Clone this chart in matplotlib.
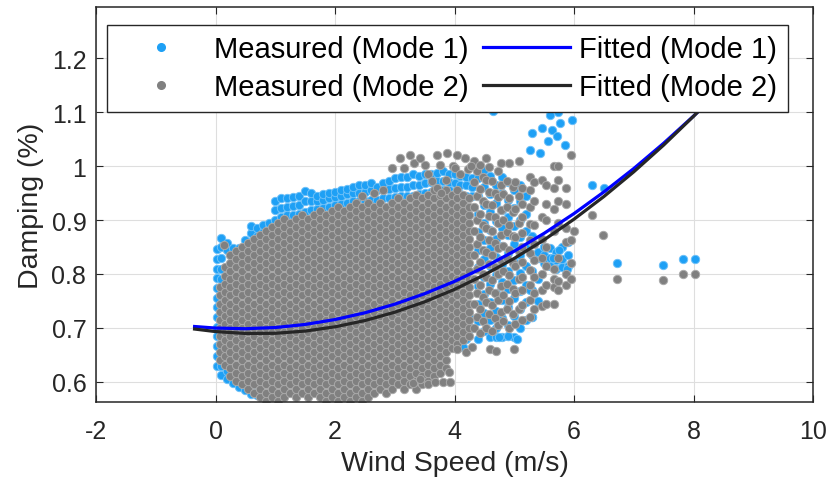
import numpy as np
import matplotlib
matplotlib.use("Agg")
import matplotlib.pyplot as plt
from matplotlib.lines import Line2D
from matplotlib.ticker import FormatStrFormatter

plt.rcParams['font.family'] = ['Liberation Sans', 'DejaVu Sans']
plt.rcParams['axes.unicode_minus'] = False

# ---- measured damping, mode 2 (grey), read column by column, values in 1/1000 %
m2_col_x = [0.08, 0.16, 0.25, 0.35, 0.45, 0.55, 0.65, 0.75, 0.85, 0.95,
            1.05, 1.15, 1.25, 1.35, 1.45, 1.55, 1.65, 1.75, 1.85, 1.95,
            2.05, 2.15, 2.25, 2.35, 2.45, 2.55, 2.65, 2.75, 2.85, 2.95,
            3.05, 3.15, 3.25, 3.35, 3.45, 3.55, 3.65, 3.75, 3.85, 3.95,
            4.05, 4.15, 4.25]
m2_col_y = [
    "640 655 670 685 700 715 730 745 760 775",
    "632 647 662 677 692 707 722 737 752 767 782 797 812",
    "610 625 640 655 670 685 700 715 730 745 760 775 790 805 820 835",
    "602 617 632 647 662 677 692 707 722 737 752 767 782 797 812 827 842",
    "595 610 625 640 655 670 685 700 715 730 745 760 775 790 805 820 835 850",
    "587 602 617 632 647 662 677 692 707 722 737 752 767 782 797 812 827 842 857",
    "580 595 610 625 640 655 670 685 700 715 730 745 760 775 790 805 820 835 850 865",
    "572 587 602 617 632 647 662 677 692 707 722 737 752 767 782 797 812 827 842 857 872",
    "565 580 595 610 625 640 655 670 685 700 715 730 745 760 775 790 805 820 835 850 865 880",
    "572 587 602 617 632 647 662 677 692 707 722 737 752 767 782 797 812 827 842 857 872 887",
    "565 580 595 610 625 640 655 670 685 700 715 730 745 760 775 790 805 820 835 850 865 880 895",
    "572 587 602 617 632 647 662 677 692 707 722 737 752 767 782 797 812 827 842 857 872 887 902",
    "580 595 610 625 640 655 670 685 700 715 730 745 760 775 790 805 820 835 850 865 880 895",
    "572 587 602 617 632 647 662 677 692 707 722 737 752 767 782 797 812 827 842 857 872 887 902",
    "580 595 610 625 640 655 670 685 700 715 730 745 760 775 790 805 820 835 850 865 880 895 910",
    "572 587 602 617 632 647 662 677 692 707 722 737 752 767 782 797 812 827 842 857 872 887 902",
    "580 595 610 625 640 655 670 685 700 715 730 745 760 775 790 805 820 835 850 865 880 895 910",
    "572 587 602 617 632 647 662 677 692 707 722 737 752 767 782 797 812 827 842 857 872 887 902 917",
    "565 580 595 610 625 640 655 670 685 700 715 730 745 760 775 790 805 820 835 850 865 880 895 910",
    "572 587 602 617 632 647 662 677 692 707 722 737 752 767 782 797 812 827 842 857 872 887 902 917",
    "565 580 595 610 625 640 655 670 685 700 715 730 745 760 775 790 805 820 835 850 865 880 895 910 925",
    "572 587 602 617 632 647 662 677 692 707 722 737 752 767 782 797 812 827 842 857 872 887 902 917",
    "565 580 595 610 625 640 655 670 685 700 715 730 745 760 775 790 805 820 835 850 865 880 895 910 925",
    "572 587 602 617 632 647 662 677 692 707 722 737 752 767 782 797 812 827 842 857 872 887 902 917 932",
    "565 580 595 610 625 640 655 670 685 700 715 730 745 760 775 790 805 820 835 850 865 880 895 910 925",
    "572 587 602 617 632 647 662 677 692 707 722 737 752 767 782 797 812 827 842 857 872 887 902 917 932",
    "580 595 610 625 640 655 670 685 700 715 730 745 760 775 790 805 820 835 850 865 880 895 910 925",
    "587 602 617 632 647 662 677 692 707 722 737 752 767 782 797 812 827 842 857 872 887 902 917 932",
    "580 595 610 625 640 655 670 685 700 715 730 745 760 775 790 805 820 835 850 865 880 895 910 925",
    "587 602 617 632 647 662 677 692 707 722 737 752 767 782 797 812 827 842 857 872 887 902 917 932",
    "595 610 625 640 655 670 685 700 715 730 745 760 775 790 805 820 835 850 865 880 895 910 925 940",
    "587 602 617 632 647 662 677 692 707 722 737 752 767 782 797 812 827 842 857 872 887 902 917 932",
    "595 610 625 640 655 670 685 700 715 730 745 760 775 790 805 820 835 850 865 880 895 910 925 940",
    "587 602 617 632 647 662 677 692 707 722 737 752 767 782 797 812 827 842 857 872 887 902 917 932 947",
    "595 610 625 640 655 670 685 700 715 730 745 760 775 790 805 820 835 850 865 880 895 910 925 940",
    "602 617 632 647 662 677 692 707 722 737 752 767 782 797 812 827 842 857 872 887 902 917 932 947",
    "610 625 640 655 670 685 700 715 730 745 760 775 790 805 820 835 850 865 880 895 910 925 940 955",
    "617 632 647 662 677 692 707 722 737 752 767 782 797 812 827 842 857 872 887 902 917 932 947",
    "625 640 655 670 685 700 715 730 745 760 775 790 805 820 835 850 865 880 895 910 925 940 955",
    "662 677 692 707 722 737 752 767 782 797 812 827 842 857 872 887 902 917 932 947",
    "670 685 700 715 730 745 760 775 790 805 820 835 850 865 880 895 910 925 940 955",
    "677 692 707 722 737 752 767 782 797 812 827 842 857 872 887 902 917 932 947",
    "685 700 715 730 745 760 775 790 805 820 835 850 865 880 895 910 925 940",
]

# sparser part of the mode 2 cloud at higher wind speeds
m2_mid_x = [4.32, 4.38, 4.42, 4.48, 4.52, 4.58, 4.62, 4.68, 4.72, 4.78,
            4.82, 4.88, 4.92, 4.98, 5.02, 5.08, 5.13, 5.27, 5.33, 5.47,
            5.53, 5.67, 5.73, 5.87, 5.95]
m2_mid_y = [
    "700 745 790 835 880 925 970 1010",
    "720 765 810 855 900 945 990",
    "690 735 780 822 868 912 958 1002",
    "712 757 800 845 890 935 980",
    "700 748 795 840 885 930 975 1015",
    "725 770 818 862 908 952 998",
    "695 742 788 835 880 928 972",
    "718 765 812 858 905 950",
    "705 752 800 848 895 942 990",
    "730 777 825 872 918 965 1005",
    "712 760 805 852 900 948",
    "735 782 830 878 925 972",
    "700 750 798 845 890 940 1005",
    "725 772 820 870 915 962",
    "708 765 815 868 920 970",
    "735 790 842 895 945 1010",
    "715 742 770 795 822 850 875 905 930 960",
    "720 752 780 808 838 862 892 925 955 980",
    "735 765 795 825 855 890 935 970",
    "740 770 800 830 865 905 975",
    "745 780 815 850 900 930 965",
    "745 775 790 810 880 920 960 1000",
    "770 786 830 895 935 975 1000",
    "780 800 860 885 930 960",
    "790 820 862 1020",
]

# isolated mode 2 points
m2_extra_x = [0.15, 2.45, 2.65, 2.80, 2.96, 3.08, 3.16, 3.25, 3.33, 3.42, 3.50,
              3.55, 3.62, 3.70, 3.70, 3.75, 3.78, 3.85, 3.87, 3.98, 4.00, 4.04,
              4.10, 4.17, 4.22, 4.28, 3.30, 3.42, 3.55, 3.68, 3.80, 3.90, 3.92,
              4.05, 4.20, 4.30, 4.60, 4.70, 5.00, 6.00, 6.30, 6.48, 6.72, 7.49,
              7.82, 8.02]
m2_extra_y = [0.853, 0.945, 0.950, 0.955, 0.997, 1.015, 0.997, 1.020, 1.006, 1.015, 1.002,
              0.985, 0.972, 0.960, 1.020, 1.002, 0.950, 0.975, 1.025, 1.000, 0.997, 1.020,
              0.985, 1.015, 0.995, 1.000, 0.597, 0.605, 0.595, 0.600, 0.600, 0.618, 0.600,
              0.660, 0.655, 0.665, 0.660, 0.657, 0.660, 0.880, 0.910, 0.872, 0.790, 0.788,
              0.799, 0.799]

# ---- measured damping, mode 1 (blue); mostly hidden under mode 2, only the edges show
m1_col_x = [0.03, 0.10, 0.20, 0.30, 0.40, 0.50, 0.60, 0.70, 0.80, 0.90,
            1.00, 1.10, 1.20, 1.30, 1.40, 1.50, 1.60, 1.70, 1.80, 1.90,
            2.00, 2.10, 2.20, 2.30, 2.40, 2.50, 2.60, 2.70, 2.80, 2.90,
            3.00, 3.10, 3.20, 3.30, 3.40, 3.50, 3.60, 3.70, 3.80, 3.90,
            4.00, 4.10, 4.20, 4.30,
            4.40, 4.50, 4.60, 4.70, 4.80, 4.90, 5.00, 5.10, 5.20, 5.30,
            5.40, 5.50, 5.60, 5.70, 5.80, 5.90]
m1_col_y = [
    "630 648 666 684 702 720 738 756 774 792 810 828 846",
    "612 630 790 810 830 850 866",
    "605 620 845 858",
    "598 612 835 848",
    "590 605 840 848",
    "585 598 848 862",
    "578 592 860 875 888",
    "575 588 870 885",
    "878 890",
    "885 895",
    "900 918 935",
    "905 922 940",
    "910 925 940",
    "910 926 942",
    "912 928 945",
    "915 935 953",
    "918 935 950",
    "920 935 945",
    "922 938 948",
    "925 940 950",
    "928 943 952",
    "930 945 955",
    "932 948 958",
    "935 950 962",
    "935 950 965",
    "935 952 965",
    "938 955 968",
    "938 955 962",
    "940 955 968",
    "940 958 972",
    "942 960 978",
    "945 962 980",
    "945 962 980",
    "945 965 985",
    "948 965 982",
    "950 968 985",
    "952 970 985",
    "955 972 988",
    "955 972 990",
    "955 970 985",
    "950 968 985",
    "948 965 982",
    "945 965 980",
    "945 962 978",
    "680 712 745 778 812 845 878 912 945 978",
    "695 728 762 795 828 862 895 928 962 992",
    "683 715 748 782 815 848 882 915 948 982",
    "683 700 732 765 798 832 865 898 932 965",
    "683 718 752 785 818 852 885 918 950 980",
    "685 705 738 772 805 838 872 905 938 970",
    "683 722 755 788 822 855 888 922 955",
    "700 735 768 802 835 868 900 935 965",
    "715 748 780 815 848 880 912 945",
    "720 770 805 835 870",
    "750 790 830 840",
    "820 835 850",
    "815 830 848",
    "810 825 840",
    "812 828 850",
    "815 835 860",
]

m1_extra_x = [4.64, 5.29, 5.26, 5.43, 5.46, 5.56, 5.63, 5.71, 5.76, 5.73, 5.60,
              5.96, 5.85, 6.30, 6.50, 6.72, 7.49, 7.82, 8.02, 5.26, 5.30, 4.25,
              4.30, 4.20, 4.15, 5.65, 5.88, 5.75, 5.50, 4.75, 4.90, 5.04]
m1_extra_y = [1.103, 1.062, 1.030, 1.025, 1.071, 1.047, 1.066, 1.056, 1.080, 1.100, 1.094,
              1.086, 1.040, 0.965, 0.960, 0.820, 0.816, 0.827, 0.827, 0.770, 0.720, 0.720,
              0.700, 0.680, 0.665, 0.830, 0.810, 0.845, 0.850, 0.683, 0.685, 0.680]

# ---- fitted curves
fit_x = [-0.35, 0, 0.5, 1, 1.5, 2, 2.5, 3, 3.5, 4, 4.5, 5, 5.5, 6, 6.5, 7, 7.5, 8, 8.1]
fit_m1 = [0.7025, 0.6996, 0.6984, 0.7006, 0.7063, 0.7154, 0.7279, 0.7439, 0.7633, 0.7862,
          0.8125, 0.8422, 0.8753, 0.9119, 0.9520, 0.9954, 1.0423, 1.0927, 1.1032]
fit_m2 = [0.6978, 0.6931, 0.6896, 0.6899, 0.6940, 0.7019, 0.7135, 0.7290, 0.7482, 0.7713,
          0.7982, 0.8288, 0.8632, 0.9015, 0.9435, 0.9893, 1.0389, 1.0923, 1.1035]


def unpack(col_x, col_y):
    px, py = [], []
    for x, s in zip(col_x, col_y):
        for v in s.split():
            px.append(x)
            py.append(int(v) / 1000.0)
    return px, py


m1x, m1y = unpack(m1_col_x, m1_col_y)
m1x += m1_extra_x
m1y += m1_extra_y

m2x, m2y = unpack(m2_col_x, m2_col_y)
mx, my = unpack(m2_mid_x, m2_mid_y)
m2x += mx + m2_extra_x
m2y += my + m2_extra_y

blue = '#1ea0f5'
grey = '#808080'
dark = '#262626'

fig = plt.figure(figsize=(8.32, 4.89), dpi=100)
ax = fig.add_axes([96 / 832, 1 - 403 / 489, 717 / 832, 395 / 489])

ax.scatter(m1x, m1y, s=36, c=blue, edgecolors='#6cc0f8', linewidths=0.7, zorder=2)
ax.scatter(m2x, m2y, s=36, c=grey, edgecolors='#a9a9a9', linewidths=0.7, zorder=2)
ax.plot(fit_x, fit_m1, color='#0000ff', lw=2.3, zorder=3)
ax.plot(fit_x, fit_m2, color=dark, lw=2.3, zorder=3)

ax.set_xlim(-2, 10)
ax.set_ylim(0.5625, 1.295)
ax.set_xticks([-2, 0, 2, 4, 6, 8, 10])
ax.set_yticks([0.6, 0.7, 0.8, 0.9, 1.0, 1.1, 1.2])
ax.yaxis.set_major_formatter(FormatStrFormatter('%g'))
ax.grid(True, color='#dedede', lw=0.8, zorder=0)
ax.set_axisbelow(True)
ax.tick_params(direction='in', length=5, width=0.8, top=True, right=True,
               labelsize=18, colors=dark)
ax.tick_params(axis='x', pad=12)
ax.tick_params(axis='y', pad=7)
for sp in ax.spines.values():
    sp.set_color(dark)
    sp.set_linewidth(1.1)

ax.set_xlabel('Wind Speed (m/s)', fontsize=20.5, color=dark, labelpad=5)
ax.set_ylabel('Damping (%)', fontsize=20.5, color=dark, labelpad=5)

handles = [
    Line2D([], [], marker='o', ls='none', ms=5.5, mfc=blue, mec=blue),
    Line2D([], [], marker='o', ls='none', ms=5.5, mfc=grey, mec=grey),
    Line2D([], [], color='#0000ff', lw=2.3),
    Line2D([], [], color=dark, lw=2.3),
]
labels = ['Measured (Mode 1)', 'Measured (Mode 2)', 'Fitted (Mode 1)', 'Fitted (Mode 2)']
leg = ax.legend(handles, labels, ncol=2, loc='upper left',
                bbox_to_anchor=(107 / 832, 1 - 26 / 489), bbox_transform=fig.transFigure,
                borderaxespad=0, fontsize=21, handlelength=3.0, handletextpad=0.3,
                columnspacing=0.5, labelspacing=0.33, borderpad=0.36,
                fancybox=False, framealpha=1, edgecolor=dark)
leg.get_frame().set_linewidth(1.0)
leg.set_zorder(5)

fig.savefig('out.png', dpi=100)
